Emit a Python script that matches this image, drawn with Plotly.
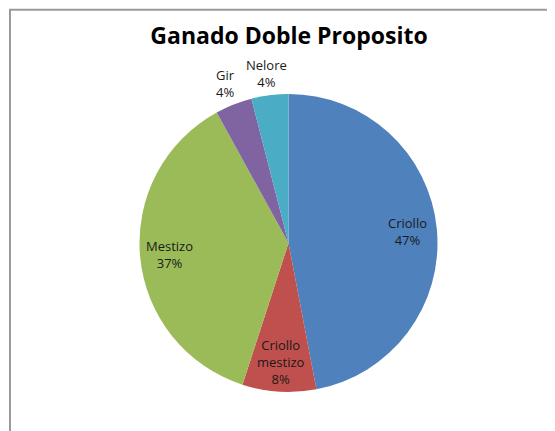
import math
import plotly.graph_objects as go

categories = ["Criollo", "Criollo mestizo", "Mestizo", "Gir", "Nelore"]
values = [47, 8, 37, 4, 4]
colors = ["#4F81BD", "#C0504D", "#9BBB59", "#8064A2", "#4BACC6"]
label_inside = [True, True, True, False, False]
title_text = "Ganado Doble Proposito"

W, H = 555, 431
OFF = 8  # page body margin offset
CX, CY, RAD = 288.5 - OFF, 243 - OFF, 149.5
L, R = CX - RAD, W - (CX + RAD)
T, B = CY - RAD, H - (CY + RAD)
pw, ph = W - L - R, H - T - B

FONT = "Open Sans, Liberation Sans, sans-serif"

fig = go.Figure(go.Pie(
    labels=categories,
    values=values,
    textinfo="none",
    sort=False,
    direction="clockwise",
    rotation=0,
    marker=dict(colors=colors, line=dict(width=0)),
    showlegend=False,
    hoverinfo="label+percent",
))

# data labels placed along each slice's mid-angle
total = sum(values)
cum = 0
for cat, v, inside in zip(categories, values, label_inside):
    mid = (cum + v / 2) / total * 2 * math.pi
    cum += v
    f = 0.8 if inside else 1.15
    dx = math.sin(mid) * RAD * f
    dy = math.cos(mid) * RAD * f
    txt = cat.replace(" ", "<br>") + "<br>" + f"{round(v / total * 100)}%"
    fig.add_annotation(
        x=0.5 + dx / pw, y=0.5 + dy / ph, xref="paper", yref="paper",
        text=txt, showarrow=False, xanchor="center", yanchor="middle",
        font=dict(family=FONT, size=13, color="#1a1a1a"),
    )

def px2x(p):
    return (p - L) / pw
def py2y(p):
    return (H - B - p) / ph

fig.add_shape(type="rect", xref="paper", yref="paper",
              x0=px2x(2), x1=px2x(W + 20), y0=py2y(H + 20), y1=py2y(1),
              line=dict(color="#9a9a9a", width=2), fillcolor="rgba(0,0,0,0)", layer="below")

fig.update_layout(
    width=W, height=H,
    margin=dict(l=L, r=R, t=T, b=B),
    paper_bgcolor="white",
    title=dict(text="<b>" + title_text + "</b>", x=(289 - OFF) / W, xanchor="center",
               y=1 - (36 - OFF) / H, yanchor="middle",
               font=dict(family=FONT, size=23, color="black")),
)

fig.write_html("out.html")
